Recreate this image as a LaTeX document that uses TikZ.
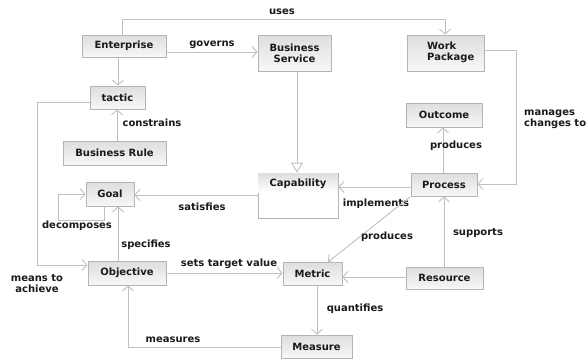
\documentclass[tikz,border=0pt]{standalone}
\usepackage{fontspec}
\setmainfont{DejaVu Sans}
\usetikzlibrary{arrows.meta}
\definecolor{boxline}{HTML}{B4B4B4}
\definecolor{wire}{HTML}{C0C0C0}
\definecolor{shadetop}{HTML}{DEDEDE}
\definecolor{shadebot}{HTML}{F7F7F7}
\definecolor{ink}{HTML}{1A1A1A}
\begin{document}
\begin{tikzpicture}[x=1pt,y=-1pt,
  font=\fontsize{10}{12}\selectfont\bfseries,
  cls/.style={draw=boxline, line width=0.8pt, top color=shadetop, bottom color=shadebot,
    inner sep=0pt, text=ink, align=center},
  rel/.style={draw=wire, line width=0.9pt, -{Straight Barb[length=5pt,width=11pt]}},
  gen/.style={draw=wire, line width=0.9pt, -{Triangle[open,length=10pt,width=12pt,fill=white]}},
  lbl/.style={text=ink, inner sep=0pt}]
\useasboundingbox (0,0) rectangle (587,360);
\fill[white] (0,0) rectangle (587,360);

% classes
\node[cls, minimum width=84pt, minimum height=22pt] (ent) at (124,46) {Enterprise};
\node[cls, minimum width=73pt, minimum height=36pt] (bs) at (294.5,53) {Business\\[-1pt]Service};
\node[cls, minimum width=77pt, minimum height=36pt] (wp) at (445.5,53) {};
\node[lbl, anchor=west, align=left] (wpt) at (427,52) {Work\\[-1pt]Package};
\node[cls, minimum width=55pt, minimum height=23pt] (tac) at (117.5,97.5) {tactic};
\node[cls, minimum width=103pt, minimum height=24pt] (br) at (114.5,153) {Business Rule};
\node[cls, minimum width=76pt, minimum height=24pt] (out) at (444,115) {Outcome};
% Capability: header band over an empty body
\node[draw=boxline, line width=0.8pt, fill=white, minimum width=80pt, minimum height=45pt, inner sep=0pt] (cap) at (298,195.5) {};
\shade[top color=shadetop, bottom color=white] ([shift={(0.5,0.5)}]cap.north west) rectangle ([shift={(-0.5,20)}]cap.north east);
\node[lbl] (capt) at (298,184) {Capability};
\node[cls, minimum width=66pt, minimum height=23pt] (proc) at (444,184.5) {Process};
\node[cls, minimum width=48pt, minimum height=24pt] (goal) at (110,194) {Goal};
\node[cls, minimum width=78pt, minimum height=24pt] (obj) at (127,273) {Objective};
\node[cls, minimum width=59pt, minimum height=23pt] (met) at (312.5,273.5) {Metric};
\node[cls, minimum width=77pt, minimum height=22pt] (res) at (444.5,278) {Resource};
\node[cls, minimum width=71pt, minimum height=23pt] (mea) at (316.5,346.5) {Measure};

% bend points
\coordinate (u1) at (122,19);
\coordinate (u2) at (445,19);
\coordinate (m1) at (37,102);
\coordinate (m2) at (37,265);
\coordinate (d1) at (104,220);
\coordinate (d2) at (58,220);
\coordinate (d3) at (58,194);
\coordinate (w1) at (516,50);
\coordinate (w2) at (516,184);
\coordinate (q1) at (128,347);

% relations
\draw[rel] (ent.north -| u1) -- (u1) -- (u2) -- (wp.north -| u2);
\node[lbl] (luses) at (282,12) {uses};
\draw[rel] (ent.east |- 0,52) -- (bs.west |- 0,52);
\node[lbl] (lgov) at (212,45) {governs};
\draw[rel] (ent.south -| 118,0) -- (tac.north -| 118,0);
\draw[rel] (br.north -| 117,0) -- (tac.south -| 117,0);
\node[lbl] (lcon) at (152,123) {constrains};
\draw[gen] (bs.south -| 297,0) -- (cap.north -| 297,0);
\draw[rel] (tac.west |- m1) -- (m1) -- (m2) -- (obj.west |- m2);
\node[lbl, align=center] (lmean) at (37,284) {means to\\[-1pt]achieve};
\draw[rel] (goal.south -| d1) -- (d1) -- (d2) -- (d3) -- (goal.west |- d3);
\node[lbl] (ldec) at (77,226) {decomposes};
\draw[rel] (obj.north -| 118,0) -- (goal.south -| 118,0);
\node[lbl] (lspec) at (146,245) {specifies};
\draw[rel] (cap.west |- 0,195) -- (goal.east |- 0,195);
\node[lbl] (lsat) at (202,207) {satisfies};
\draw[rel] (proc.west |- 0,187) -- (cap.east |- 0,187);
\node[lbl] (limp) at (376,204) {implements};
\draw[rel] (wp.east |- w1) -- (w1) -- (w2) -- (proc.east |- w2);
\node[lbl, anchor=west, align=left] (lman) at (524,119) {manages\\[-1pt]changes to};
\draw[rel] (proc.north -| 443,0) -- (out.south -| 443,0);
\node[lbl] (lprod1) at (456,146) {produces};
\draw[rel] (410,197) -- (328,262);
\node[lbl] (lprod2) at (387,237) {produces};
\draw[rel] (res.north -| 444,0) -- (proc.south -| 444,0);
\node[lbl] (lsup) at (478,233) {supports};
\draw[rel] (res.west |- 0,277) -- (met.east |- 0,277);
\draw[rel] (obj.east |- 0,273) -- (met.west |- 0,273);
\node[lbl] (lset) at (229,264) {sets target value};
\draw[rel] (met.south -| 317,0) -- (mea.north -| 317,0);
\node[lbl] (lqua) at (355,309) {quantifies};
\draw[rel] (mea.west |- q1) -- (q1) -- (obj.south -| q1);
\node[lbl] (lmeas) at (173,340) {measures};
\end{tikzpicture}
\end{document}
